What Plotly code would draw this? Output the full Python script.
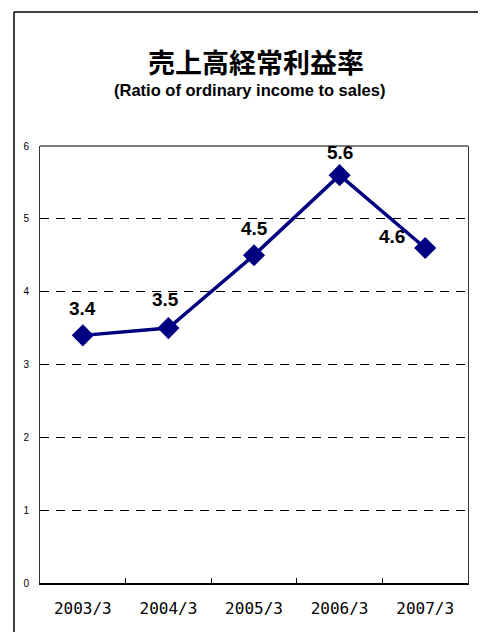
import plotly.graph_objects as go

categories = ["2003/3", "2004/3", "2005/3", "2006/3", "2007/3"]
ratio = [3.4, 3.5, 4.5, 5.6, 4.6]
y_ticks = [0, 1, 2, 3, 4, 5, 6]

NAVY = "#000080"
OFF = 8  # page body margin
W, H = 486 - OFF, 632 - OFF
L, R, T, B = 40 - OFF, 18, 146 - OFF, 49
pw, ph = W - L - R, H - T - B


def px(x):  # window x -> paper
    return (x - OFF - L) / pw


def py(y):  # window y -> paper
    return 1 - (y - OFF - T) / ph


fig = go.Figure()
fig.add_trace(go.Scatter(
    x=categories, y=ratio, mode="lines+markers",
    line=dict(color=NAVY, width=3.5),
    marker=dict(symbol="diamond", size=17, color=NAVY),
    hoverinfo="skip", showlegend=False,
))

# data labels
label_offsets = [(0, 27), (-3, 29), (0, 27), (0, 23), (-33, 11)]
for c, v, (dx, dy) in zip(categories, ratio, label_offsets):
    fig.add_annotation(x=c, y=v, text=f"<b>{v:.1f}</b>", showarrow=False,
                       xshift=dx, yshift=dy, borderpad=0,
                       font=dict(family="Liberation Sans", size=19, color="black"),
                       xanchor="center", yanchor="middle")

# title & subtitle
fig.add_annotation(xref="paper", yref="paper", x=px(256), y=py(61),
                   text="<b>売上高経常利益率</b>", showarrow=False, borderpad=0,
                   font=dict(family="Noto Sans CJK JP", size=27, color="black"),
                   xanchor="center", yanchor="middle")
fig.add_annotation(xref="paper", yref="paper", x=px(249), y=py(90),
                   text="<b>(Ratio of ordinary income to sales)</b>", showarrow=False,
                   borderpad=0,
                   font=dict(family="Liberation Sans", size=16.5, color="black"),
                   xanchor="center", yanchor="middle")

# outer frame
fig.add_shape(type="line", xref="paper", yref="paper",
              x0=px(14), x1=px(14), y0=py(700), y1=py(12),
              line=dict(color="black", width=1.5))
fig.add_shape(type="line", xref="paper", yref="paper",
              x0=px(14), x1=px(520), y0=py(12), y1=py(12),
              line=dict(color="black", width=1.5))
# plot-area top border
fig.add_shape(type="line", xref="paper", yref="paper", x0=0, x1=1, y0=1, y1=1,
              line=dict(color="black", width=1.2))

fig.update_layout(
    width=W, height=H, margin=dict(l=L, r=R, t=T, b=B),
    paper_bgcolor="white", plot_bgcolor="white",
    xaxis=dict(type="category", range=[-0.5, 4.5], tickson="boundaries",
               ticks="inside", ticklen=5, tickcolor="black", tickwidth=1,
               showline=True, linecolor="black", linewidth=2,
               showgrid=False, zeroline=False, fixedrange=True,
               tickfont=dict(family="DejaVu Sans Mono", size=16, color="black"),
               ticklabelstandoff=10),
    yaxis=dict(range=[0, 6], tickvals=y_ticks, ticktext=[str(t) for t in y_ticks],
               showline=True, mirror=True, linecolor="#333333", linewidth=1,
               showgrid=True, gridcolor="black", gridwidth=1, griddash="9px,7px",
               zeroline=False, ticks="", fixedrange=True,
               tickfont=dict(family="Liberation Sans", size=10, color="black"),
               ticklabelstandoff=8),
)

fig.write_html("out.html")
